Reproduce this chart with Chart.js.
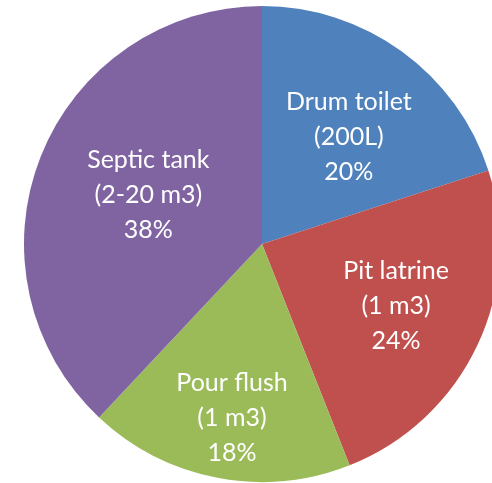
<!DOCTYPE html>
<html>
<head>
<meta charset="utf-8">
<script src="https://cdn.jsdelivr.net/npm/chart.js@4/dist/chart.umd.min.js"></script>
<style>
  html, body { margin: 0; padding: 0; background: #ffffff; overflow: hidden; width: 492px; height: 483px; }
  #wrap { position: absolute; left: 0; top: 0; width: 524px; height: 483px; }
</style>
</head>
<body>
<div id="wrap"><canvas id="c"></canvas></div>
<script>
const categories = ['Drum toilet', 'Pit latrine', 'Pour flush', 'Septic tank'];
const capacities = ['(200L)', '(1 m3)', '(1 m3)', '(2-20 m3)'];
const shares = [20, 24, 18, 38];
const colors = ['#4F81BD', '#C0504D', '#9BBB59', '#8064A2'];

const labelPlugin = {
  id: 'sliceLabels',
  afterDatasetsDraw(chart, args, opts) {
    const ctx = chart.ctx;
    const meta = chart.getDatasetMeta(0);
    ctx.save();
    ctx.fillStyle = opts.color;
    ctx.font = opts.font;
    ctx.textAlign = 'center';
    ctx.textBaseline = 'middle';
    meta.data.forEach((arc, i) => {
      const p = arc.getProps(['x', 'y', 'startAngle', 'endAngle', 'outerRadius'], true);
      const mid = (p.startAngle + p.endAngle) / 2 + (opts.angleShift[i] || 0) * Math.PI / 180;
      const r = p.outerRadius * opts.ratios[i];
      const cx = p.x + Math.cos(mid) * r;
      const cy = p.y + Math.sin(mid) * r;
      const lines = [categories[i], capacities[i], shares[i] + '%'];
      lines.forEach((t, k) => {
        ctx.fillText(t, cx, cy + (k - 1) * opts.lineHeight);
      });
    });
    ctx.restore();
  }
};

new Chart(document.getElementById('c'), {
  type: 'pie',
  data: {
    labels: categories,
    datasets: [{
      data: shares,
      backgroundColor: colors,
      borderWidth: 0
    }]
  },
  options: {
    responsive: true,
    maintainAspectRatio: false,
    animation: false,
    layout: { padding: { left: 24, right: 24, top: 6, bottom: 1 } },
    plugins: {
      legend: { display: false },
      tooltip: { enabled: false },
      sliceLabels: {
        color: '#ffffff',
        font: '25px Lato',
        lineHeight: 35,
        ratios: [0.58, 0.62, 0.74, 0.52],
        angleShift: [3, -0.5, -1, 1.7]
      }
    }
  },
  plugins: [labelPlugin]
});
</script>
</body>
</html>
